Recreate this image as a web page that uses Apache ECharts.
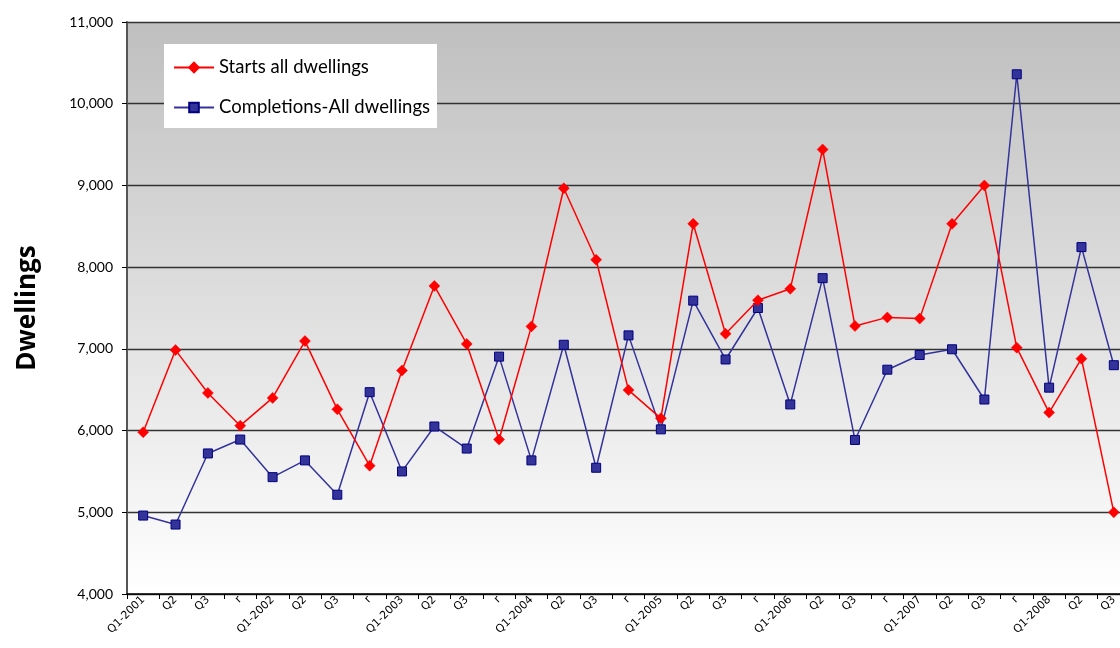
<!DOCTYPE html>
<html>
<head>
<meta charset="utf-8">
<script src="https://cdn.jsdelivr.net/npm/echarts@6/dist/echarts.min.js"></script>
<style>html,body{margin:0;padding:0;background:#fff;overflow:hidden;}#c{width:1120px;height:648px;}</style>
</head>
<body>
<div id="c"></div>
<script>
const categories = [
  'Q1-2001','Q2','Q3','r',
  'Q1-2002','Q2','Q3','r',
  'Q1-2003','Q2','Q3','r',
  'Q1-2004','Q2','Q3','r',
  'Q1-2005','Q2','Q3','r',
  'Q1-2006','Q2','Q3','r',
  'Q1-2007','Q2','Q3','r',
  'Q1-2008','Q2','Q3'
];
const starts = [
  5980, 6985, 6460, 6060,
  6400, 7095, 6260, 5570,
  6735, 7770, 7060, 5890,
  7275, 8965, 8090, 6495,
  6150, 8530, 7185, 7595,
  7735, 9440, 7280, 7385,
  7370, 8530, 9000, 7015,
  6220, 6880, 5000
];
const completions = [
  4960, 4850, 5720, 5890,
  5430, 5635, 5215, 6470,
  5500, 6050, 5780, 6905,
  5635, 7050, 5545, 7165,
  6015, 7590, 6870, 7500,
  6320, 7865, 5885, 6745,
  6925, 6995, 6380, 10360,
  6525, 8245, 6800
];
const seriesNames = ['Starts all dwellings', 'Completions-All dwellings'];

const chart = echarts.init(document.getElementById('c'), null, {renderer: 'canvas'});
chart.setOption({
  animation: false,
  backgroundColor: '#ffffff',
  grid: {
    left: 127, top: 22, bottom: 54, right: -10,
    outerBoundsMode: 'none',
    containLabel: false,
    show: true,
    borderWidth: 0,
    backgroundColor: new echarts.graphic.LinearGradient(0, 0, 0, 1, [
      {offset: 0, color: '#bfbfbf'},
      {offset: 1, color: '#ffffff'}
    ])
  },
  legend: {
    orient: 'vertical',
    left: 164, top: 44,
    backgroundColor: '#ffffff',
    padding: [14, 7, 11, 9],
    itemWidth: 40, itemHeight: 12,
    itemGap: 21,
    textStyle: {fontFamily: 'Lato', fontSize: 18.5, color: '#000'},
    data: seriesNames
  },
  xAxis: {
    type: 'category',
    data: categories,
    boundaryGap: true,
    axisLine: {lineStyle: {color: '#000', width: 1.5}},
    axisTick: {show: true, length: 5, lineStyle: {color: '#000'}},
    axisLabel: {
      rotate: 45, interval: 0, margin: 4,
      fontFamily: 'DejaVu Sans', fontSize: 11, color: '#000'
    },
    splitLine: {show: false}
  },
  yAxis: {
    type: 'value',
    min: 4000, max: 11000, interval: 1000,
    name: 'Dwellings',
    nameLocation: 'middle',
    nameGap: 86,
    nameTextStyle: {fontFamily: 'Open Sans', fontWeight: 'bold', fontSize: 26, color: '#000'},
    axisLine: {show: true, lineStyle: {color: '#555', width: 2}},
    axisTick: {show: true, length: 5, lineStyle: {color: '#000'}},
    axisLabel: {
      margin: 14,
      fontFamily: 'Lato', fontSize: 14, color: '#000',
      formatter: v => v.toLocaleString('en-US')
    },
    splitLine: {show: true, lineStyle: {color: '#333', width: 1.3}}
  },
  series: [
    {
      name: seriesNames[0],
      type: 'line',
      data: starts,
      symbol: 'diamond',
      symbolSize: 11,
      lineStyle: {color: '#ff0000', width: 1.5},
      itemStyle: {color: '#ff0000', borderColor: '#ff0000', borderWidth: 0.5},
      z: 3
    },
    {
      name: seriesNames[1],
      type: 'line',
      data: completions,
      symbol: 'rect',
      symbolSize: 9,
      lineStyle: {color: '#333399', width: 1.5},
      itemStyle: {color: '#333399', borderColor: '#000080', borderWidth: 1},
      z: 2
    }
  ]
});
</script>
</body>
</html>
